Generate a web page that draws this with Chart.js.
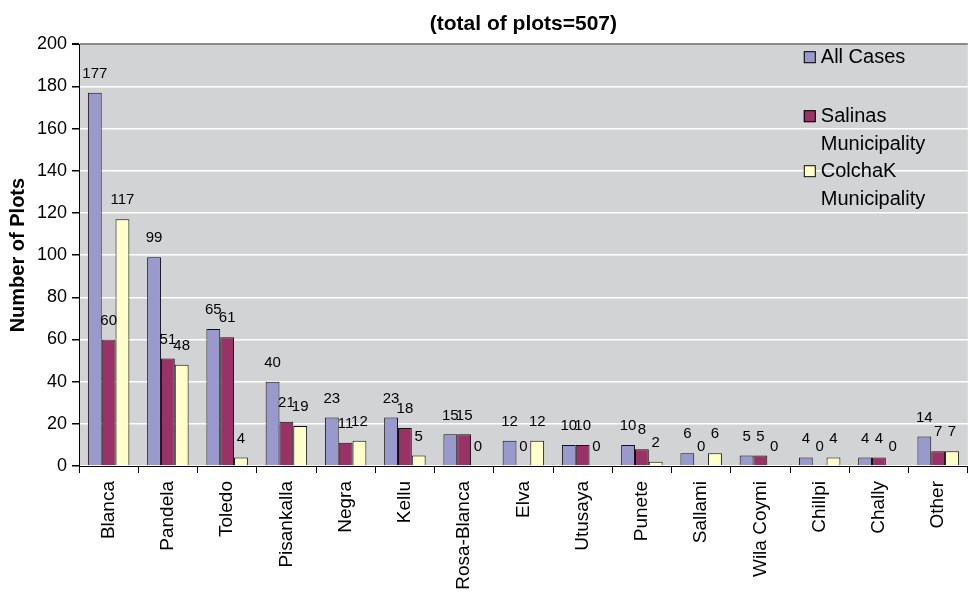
<!DOCTYPE html>
<html>
<head>
<meta charset="utf-8">
<title>Number of Plots</title>
<script src="https://cdn.jsdelivr.net/npm/chart.js@4.4.1/dist/chart.umd.min.js"></script>
<style>
  html, body { margin: 0; padding: 0; background: #fff; }
  #wrap { position: relative; width: 969px; height: 599px; }
</style>
</head>
<body>
<div id="wrap"><canvas id="plotsChart" width="969" height="599"></canvas></div>
<script>
  // ---- data ----
  const categories = ['Blanca', 'Pandela', 'Toledo', 'Pisankalla', 'Negra', 'Kellu', 'Rosa-Blanca',
    'Elva', 'Utusaya', 'Punete', 'Sallami', 'Wila Coymi', 'Chillpi', 'Chally', 'Other'];
  const allCases = [177, 99, 65, 40, 23, 23, 15, 12, 10, 10, 6, 5, 4, 4, 14];
  const salinas  = [60, 51, 61, 21, 11, 18, 15, 0, 10, 8, 0, 5, 0, 4, 7];
  const colchak  = [117, 48, 4, 19, 12, 5, 0, 12, 0, 2, 6, 0, 4, 0, 7];
  const seriesLabels = [['All Cases'], ['Salinas', 'Municipality'], ['ColchaK', 'Municipality']];
  const yMin = 0, yMax = 200, yStep = 20;
  const chartTitle = '(total of plots=507)';
  const yTitle = 'Number of Plots';

  (function () {
    'use strict';

    const FONT = '"Liberation Sans", Arial, sans-serif';
    const colors = ['#9999CC', '#993366', '#FFFFCC'];

    // gray plot area
    const plotBg = {
      id: 'plotBg',
      beforeDraw(chart) {
        const a = chart.chartArea, ctx = chart.ctx;
        ctx.save();
        ctx.fillStyle = '#D2D3D5';
        ctx.fillRect(a.left, a.top, a.right - a.left, a.bottom - a.top);
        ctx.restore();
      }
    };

    // value labels above bars
    const valueLabels = {
      id: 'valueLabels',
      afterDatasetsDraw(chart) {
        const ctx = chart.ctx;
        ctx.save();
        ctx.font = '15px ' + FONT;
        ctx.fillStyle = '#000';
        ctx.textAlign = 'center';
        ctx.textBaseline = 'middle';
        chart.data.datasets.forEach(function (ds, i) {
          chart.getDatasetMeta(i).data.forEach(function (bar, j) {
            ctx.fillText(String(ds.data[j]), bar.x, bar.y - 19);
          });
        });
        ctx.restore();
      }
    };

    // legend inside plot area, top right
    const innerLegend = {
      id: 'innerLegend',
      afterDraw(chart) {
        const a = chart.chartArea, ctx = chart.ctx;
        const rowTop = [13, 72, 127];
        const lineH = 28;
        const boxX = a.right - 164;
        ctx.save();
        ctx.font = '20px ' + FONT;
        ctx.textBaseline = 'middle';
        ctx.textAlign = 'left';
        chart.data.datasets.forEach(function (ds, i) {
          const y = a.top + rowTop[i];
          ctx.fillStyle = ds.backgroundColor;
          ctx.fillRect(boxX, y - 6, 12, 12);
          ctx.strokeStyle = '#000';
          ctx.lineWidth = 1;
          ctx.strokeRect(boxX + 0.5, y - 5.5, 11, 11);
          ctx.fillStyle = '#000';
          seriesLabels[i].forEach(function (line, k) {
            ctx.fillText(line, boxX + 17, y + k * lineH);
          });
        });
        ctx.restore();
      }
    };

    function makeSet(idx, values) {
      return {
        label: seriesLabels[idx].join(' '),
        data: values,
        backgroundColor: colors[idx],
        borderColor: '#111',
        borderWidth: 1,
        borderSkipped: 'bottom',
        categoryPercentage: 0.7,
        barPercentage: 1.0
      };
    }

    new Chart(document.getElementById('plotsChart'), {
      type: 'bar',
      data: {
        labels: categories,
        datasets: [makeSet(0, allCases), makeSet(1, salinas), makeSet(2, colchak)]
      },
      options: {
        responsive: false,
        animation: false,
        layout: { padding: { left: 0, right: 0, top: 0, bottom: 0 } },
        plugins: {
          legend: { display: false },
          tooltip: { enabled: false },
          title: {
            display: true,
            text: chartTitle,
            fullSize: false,
            color: '#000',
            font: { family: FONT, size: 21, weight: 'bold' },
            padding: { top: 12, bottom: 7 }
          }
        },
        scales: {
          x: {
            offset: true,
            grid: {
              display: true,
              offset: true,
              drawOnChartArea: false,
              color: '#000',
              tickLength: 7
            },
            border: { color: '#000', width: 1 },
            ticks: {
              color: '#000',
              font: { family: FONT, size: 19 },
              minRotation: 90,
              maxRotation: 90,
              autoSkip: false,
              padding: 8
            },
            afterFit(scale) { scale.height = 133; }
          },
          y: {
            min: yMin,
            max: yMax,
            grid: {
              color: function (c) { return c.tick && c.tick.value === yMax ? '#8a8a8a' : '#ffffff'; },
              lineWidth: function (c) { return c.tick && c.tick.value === yMax ? 2 : 1.5; },
              tickColor: '#000',
              tickLength: 7
            },
            border: { color: '#000', width: 1 },
            ticks: {
              stepSize: yStep,
              color: '#000',
              font: { family: FONT, size: 18 },
              padding: 5
            },
            title: {
              display: true,
              text: yTitle,
              color: '#000',
              font: { family: FONT, size: 20, weight: 'bold' },
              padding: { top: 6, bottom: 0 }
            },
            afterFit(scale) { scale.width = 79; }
          }
        }
      },
      plugins: [plotBg, valueLabels, innerLegend]
    });
  })();
</script>
</body>
</html>
